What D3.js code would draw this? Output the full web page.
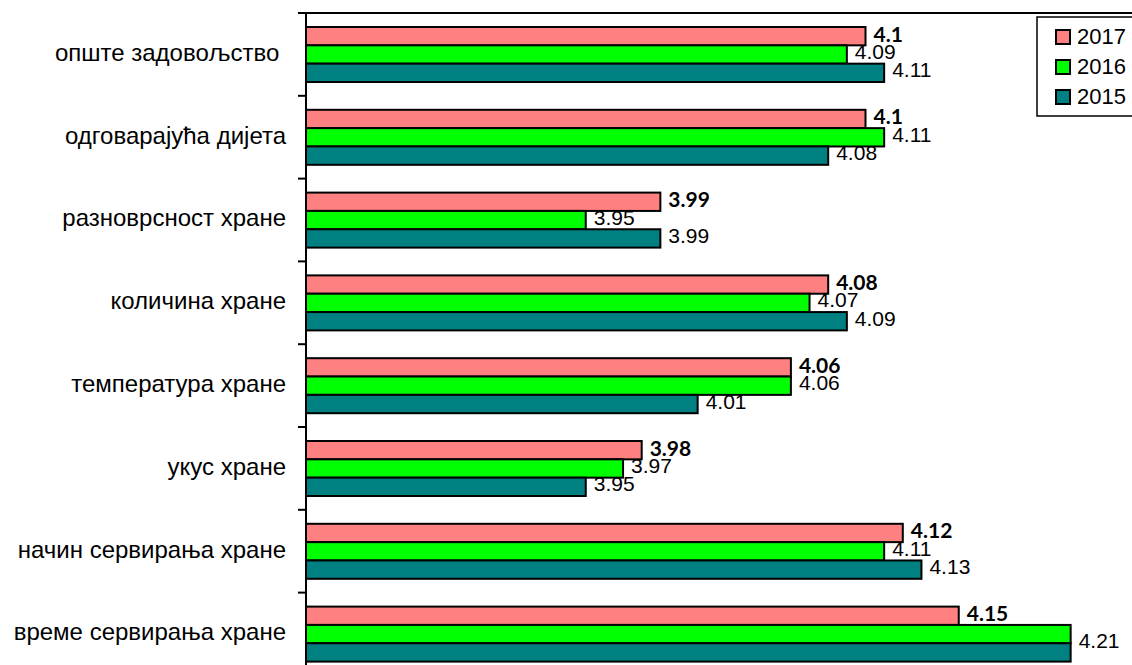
<!DOCTYPE html>
<html><head><meta charset="utf-8">
<script src="https://cdn.jsdelivr.net/npm/d3@7"></script>
<style>body{margin:0;background:#fff;}svg{display:block;}</style>
</head><body>
<script>
const categories = ["опште задовољство ", "одговарајућа дијета", "разноврсност хране", "количина хране", "температура хране", "укус хране", "начин сервирања хране", "време сервирања хране"];
const series = ["2017", "2016", "2015"];
const values2017 = [4.10, 4.10, 3.99, 4.08, 4.06, 3.98, 4.12, 4.15];
const values2016 = [4.09, 4.11, 3.95, 4.07, 4.06, 3.97, 4.11, 4.21];
const values2015 = [4.11, 4.08, 3.99, 4.09, 4.01, 3.95, 4.13, 4.21];
const colors = ["#FF8080", "#00FF00", "#008080"];

const W = 1132, H = 665;
const svg = d3.select("body").append("svg").attr("width", W).attr("height", H);

const plotTop = 13, bandH = 82.8;
const x = d3.scaleLinear().domain([3.8, 4.3]).range([306, 1238.5]);
const y = d3.scaleBand().domain(categories).range([plotTop, plotTop + bandH * categories.length]).paddingInner(0).paddingOuter(0);
const inner = d3.scaleBand().domain(series).range([14, 14 + 55]);

const data = categories.map((c, i) => ({cat: c, vals: [values2017[i], values2016[i], values2015[i]]}));

// top frame line
svg.append("line").attr("x1", 298).attr("x2", W).attr("y1", plotTop).attr("y2", plotTop)
  .attr("stroke", "#000").attr("stroke-width", 2);

const g = svg.selectAll("g.cat").data(data).enter().append("g")
  .attr("transform", d => `translate(0,${y(d.cat)})`);

g.selectAll("rect").data(d => d.vals.map((v, k) => ({v, k}))).enter().append("rect")
  .attr("x", x(3.8))
  .attr("y", d => inner(series[d.k]))
  .attr("width", d => x(d.v) - x(3.8))
  .attr("height", inner.bandwidth())
  .attr("fill", d => colors[d.k])
  .attr("stroke", "#000").attr("stroke-width", 2);

// value labels; when 2016 and 2015 are equal, one shared label sits between the two bars
const labelData = d => {
  const out = [];
  d.vals.forEach((v, k) => {
    if (k === 1 && d.vals[2] === v) return;
    let yy = inner(series[k]) + inner.bandwidth() / 2 + (k === 0 ? 0 : -1);
    if (k === 2 && d.vals[1] === v) yy = inner(series[2]) - 1;
    out.push({v, k, yy});
  });
  return out;
};
g.selectAll("text.val").data(labelData).enter().append("text")
  .attr("class", "val")
  .attr("x", d => x(d.v) + 8)
  .attr("y", d => d.yy)
  .attr("dominant-baseline", "middle")
  .style("font-family", d => d.k === 0 ? "Lato, 'Open Sans', sans-serif" : "'Liberation Sans', Arial, sans-serif")
  .style("font-weight", d => d.k === 0 ? "bold" : "normal")
  .style("font-size", "21px")
  .attr("fill", "#000")
  .text(d => d3.format("")(+d.v.toFixed(2)));

// category axis line
svg.append("line").attr("x1", 306).attr("x2", 306).attr("y1", plotTop - 1).attr("y2", H)
  .attr("stroke", "#000").attr("stroke-width", 2);
// tick marks at band boundaries
svg.selectAll("line.tick").data(categories).enter().append("line")
  .attr("x1", 298).attr("x2", 306)
  .attr("y1", d => y(d)).attr("y2", d => y(d))
  .attr("stroke", "#000").attr("stroke-width", 2);

svg.selectAll("text.cat").data(categories).enter().append("text")
  .attr("x", 286)
  .attr("y", d => y(d) + y.bandwidth() / 2)
  .attr("text-anchor", "end").attr("dominant-baseline", "middle")
  .style("font-family", "'Liberation Sans', Arial, sans-serif").style("font-size", "24px")
  .style("white-space", "pre").attr("xml:space", "preserve")
  .text(d => d);

// legend
const lg = svg.append("g").attr("transform", "translate(1037,17)");
lg.append("rect").attr("x", 0).attr("y", 0).attr("width", 120).attr("height", 99)
  .attr("fill", "#fff").attr("stroke", "#000").attr("stroke-width", 1.5);
series.forEach((s, i) => {
  lg.append("rect").attr("x", 19).attr("y", 13 + i * 30).attr("width", 14).attr("height", 14)
    .attr("fill", colors[i]).attr("stroke", "#000").attr("stroke-width", 2);
  lg.append("text").attr("x", 40).attr("y", 21 + i * 30).attr("dominant-baseline", "middle")
    .style("font-family", "'Liberation Sans', Arial, sans-serif").style("font-size", "22px").text(s);
});
</script>
</body></html>
